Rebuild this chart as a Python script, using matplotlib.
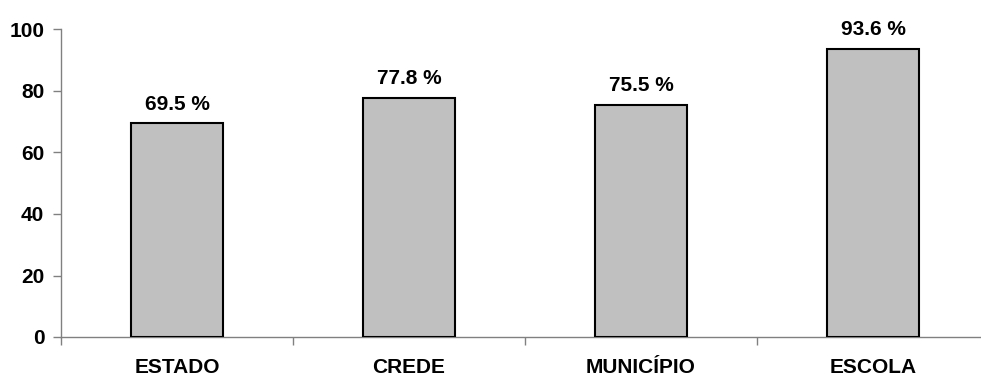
import matplotlib
matplotlib.use("Agg")
import matplotlib.pyplot as plt
import numpy as np

categories = ["ESTADO", "CREDE", "MUNICÍPIO", "ESCOLA"]
values = [69.5, 77.8, 75.5, 93.6]
value_labels = ["69.5 %", "77.8 %", "75.5 %", "93.6 %"]
yticks = [0, 20, 40, 60, 80, 100]

plt.rcParams['font.family'] = ['Liberation Sans', 'DejaVu Sans']
plt.rcParams['font.weight'] = 'bold'
FS = 15

fig = plt.figure(figsize=(9.81, 3.77), dpi=100)
ax = fig.add_axes([61 / 981, 40 / 377, 928 / 981, 307.5 / 377])

x = np.arange(len(categories))
ax.bar(x, values, width=0.4, color='#C0C0C0', edgecolor='black', linewidth=1.5, zorder=3)

for xi, v, lab in zip(x, values, value_labels):
    ax.annotate(lab, (xi, v), xytext=(0, 7), textcoords='offset points',
                ha='center', va='bottom', fontsize=FS, fontweight='bold')

ax.set_xlim(-0.5, len(categories) - 0.5)
ax.set_ylim(0, 100)
ax.set_yticks(yticks)
ax.set_yticklabels([str(t) for t in yticks], fontsize=FS, fontweight='bold')

# category labels centered, tick marks at category boundaries
ax.set_xticks(x)
ax.set_xticklabels(categories, fontsize=FS, fontweight='bold')
ax.tick_params(axis='x', length=0, pad=15)
ax.set_xticks(np.arange(len(categories) + 1) - 0.5, minor=True)
ax.tick_params(axis='x', which='minor', length=6, color='#808080', width=1)
ax.tick_params(axis='y', length=6, color='#808080', width=1, pad=6)

for s in ['top', 'right']:
    ax.spines[s].set_visible(False)
for s in ['left', 'bottom']:
    ax.spines[s].set_color('#808080')
    ax.spines[s].set_linewidth(1)

fig.savefig('out.png', dpi=100)
